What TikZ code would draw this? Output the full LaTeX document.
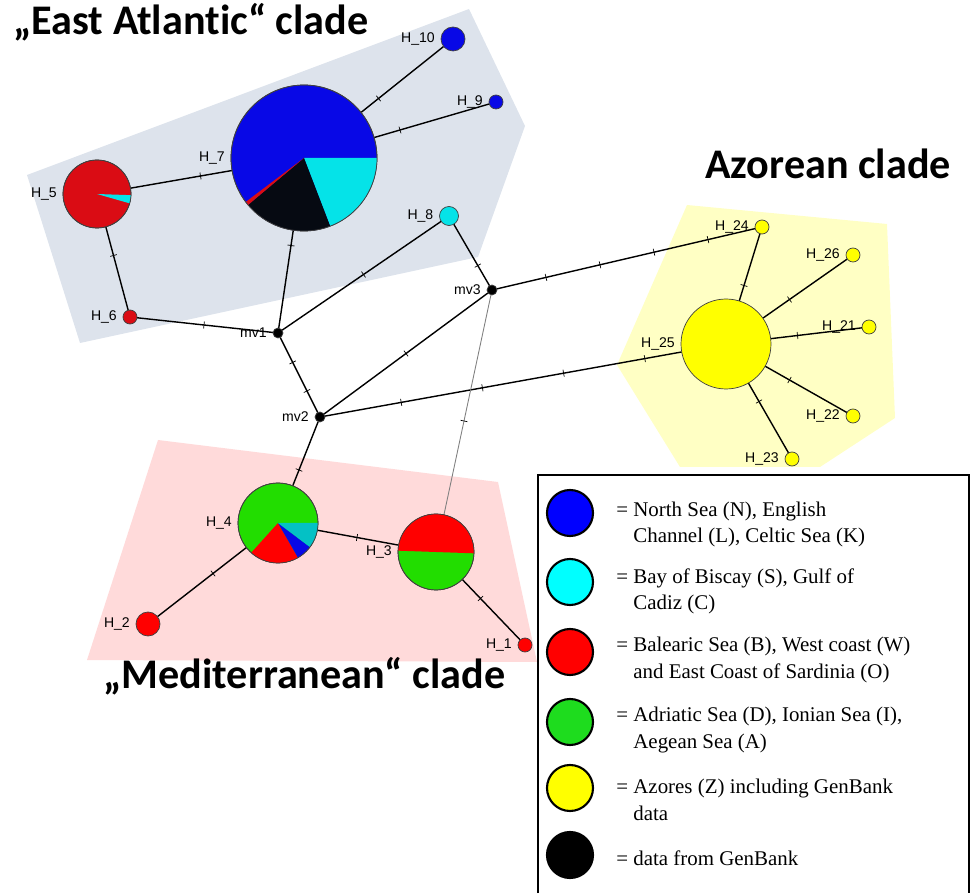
\documentclass[tikz,border=0pt]{standalone}
\usepackage{fontspec}
\setmainfont{Liberation Serif}
\newfontfamily\labelfont{Liberation Sans}
\newfontfamily\cladefont{Carlito}[Ligatures=NoCommon]
\usepackage{tikz}
\usepackage{tikz-network}
\usetikzlibrary{calc}

\definecolor{NSea}{RGB}{8,8,230}
\definecolor{Biscay}{RGB}{5,227,232}
\definecolor{BalearA}{RGB}{218,12,20}
\definecolor{BalearM}{RGB}{255,0,0}
\definecolor{Adria}{RGB}{34,221,0}
\definecolor{GenBank}{RGB}{6,10,18}
\definecolor{Azores}{RGB}{255,255,0}
\definecolor{hullEA}{RGB}{221,227,236}
\definecolor{hullAZ}{RGB}{255,255,196}
\definecolor{hullME}{RGB}{255,218,218}
\definecolor{keyN}{RGB}{0,0,255}
\definecolor{keyS}{RGB}{0,255,255}
\definecolor{keyB}{RGB}{255,0,0}
\definecolor{keyD}{RGB}{30,220,30}
\definecolor{keyZ}{RGB}{255,255,0}

\tikzset{
  tickline/.style={black, line width=0.4pt},
  pieline/.style={draw=black!75, line width=0.4pt},
  legdot/.style={circle, draw=black, line width=1.2pt, minimum size=0.92cm, inner sep=0pt},
  legtext/.style={anchor=base west, align=left, inner sep=0pt, font=\fontsize{11.9}{14.8}\selectfont},
  clade/.style={anchor=base west, inner sep=0pt, font=\cladefont\bfseries\fontsize{24}{28}\selectfont}
}

% mutation step on an edge
\newcommand{\MutTick}[3]{\draw[tickline] ($(#1)!#3!(#2)!2pt!90:(#2)$) -- ($(#1)!#3!(#2)!2pt!-90:(#2)$);}
% slice of a haplotype pie
\newcommand{\PieSlice}[5]{\fill[#5] (#1.center) -- ++(#2:#4) arc[start angle=#2, end angle=#3, radius=#4] -- cycle;}

\begin{document}
\begin{tikzpicture}
\useasboundingbox (0,0) rectangle (19.48,17.86);

\SetVertexStyle[LineWidth=0.4pt, LineColor=black!75, TextFont=\labelfont\fontsize{8}{9}\selectfont]
\SetEdgeStyle[Color=black, LineWidth=0.8pt]

% clade hulls
\begin{pgfonlayer}{background}
\fill[hullEA] (0.54,14.36) -- (9.38,17.68) -- (10.50,15.34) -- (9.56,12.72) -- (1.60,11.00) -- cycle;
\fill[hullAZ] (13.74,13.76) -- (17.74,13.38) -- (17.90,9.50) -- (16.40,8.52) -- (13.60,8.52) -- (12.34,10.56) -- cycle;
\fill[hullME] (3.16,9.06) -- (9.96,8.22) -- (10.74,4.62) -- (1.74,4.66) -- cycle;
\end{pgfonlayer}

\Vertex[x=9.06,y=17.08,size=.48,color=NSea,label=H\_10,position=left]{H10}
\Vertex[x=9.92,y=15.82,size=.28,color=NSea,label=H\_9,position=left]{H9}
\Vertex[x=6.08,y=14.70,size=2.92,color=NSea,label=H\_7,position=left]{H7}
\Vertex[x=1.94,y=13.98,size=1.36,color=BalearA,label=H\_5,position=left]{H5}
\Vertex[x=2.60,y=11.52,size=.28,color=BalearA,label=H\_6,position=left]{H6}
\Vertex[x=8.98,y=13.54,size=.38,color=Biscay,label=H\_8,position=left]{H8}

\Vertex[x=5.56,y=11.20,size=.2,color=black,label=mv1,position=left]{mv1}
\Vertex[x=6.40,y=9.52,size=.2,color=black,label=mv2,position=left]{mv2}
\Vertex[x=9.84,y=12.06,size=.2,color=black,label=mv3,position=left]{mv3}

\Vertex[x=14.52,y=10.98,size=1.80,color=Azores,label=H\_25,position=left]{H25}
\Vertex[x=15.24,y=13.32,size=.28,color=Azores,label=H\_24,position=left]{H24}
\Vertex[x=17.06,y=12.76,size=.28,color=Azores,label=H\_26,position=left]{H26}
\Vertex[x=17.38,y=11.32,size=.28,color=Azores,label=H\_21,position=left]{H21}
\Vertex[x=17.06,y=9.54,size=.28,color=Azores,label=H\_22,position=left]{H22}
\Vertex[x=15.84,y=8.68,size=.28,color=Azores,label=H\_23,position=left]{H23}

\Vertex[x=5.56,y=7.40,size=1.60,color=Adria,label=H\_4,position=left]{H4}
\Vertex[x=8.72,y=6.82,size=1.52,color=Adria,label=H\_3,position=left]{H3}
\Vertex[x=2.96,y=5.38,size=.48,color=BalearM,label=H\_2,position=left]{H2}
\Vertex[x=10.50,y=4.96,size=.28,color=BalearM,label=H\_1,position=left]{H1}

\Edge(H7)(H10)
\Edge(H7)(H9)
\Edge(H5)(H7)
\Edge(H5)(H6)
\Edge(H6)(mv1)
\Edge(H7)(mv1)
\Edge(mv1)(H8)
\Edge(H8)(mv3)
\Edge(mv1)(mv2)
\Edge(mv2)(mv3)
\Edge(mv2)(H25)
\Edge(mv3)(H24)
\Edge[color=gray,lw=0.5](mv3)(H3)
\Edge(mv2)(H4)
\Edge(H4)(H3)
\Edge(H4)(H2)
\Edge(H3)(H1)
\Edge(H25)(H24)
\Edge(H25)(H26)
\Edge(H25)(H21)
\Edge(H25)(H22)
\Edge(H25)(H23)

\MutTick{H7}{H10}{.5}
\MutTick{H7}{H9}{.5}
\MutTick{H5}{H7}{.5}
\MutTick{H5}{H6}{.5}
\MutTick{H6}{mv1}{.5}
\MutTick{H7}{mv1}{.5}
\MutTick{mv1}{H8}{.5}
\MutTick{H8}{mv3}{.67}
\MutTick{mv1}{mv2}{.35}
\MutTick{mv1}{mv2}{.69}
\MutTick{mv2}{mv3}{.5}
\foreach \p in {.2,.4,.6,.8}{
  \MutTick{mv2}{H25}{\p}
  \MutTick{mv3}{H24}{\p}
}
\MutTick{mv3}{H3}{.5}
\MutTick{mv2}{H4}{.5}
\MutTick{H4}{H3}{.5}
\MutTick{H4}{H2}{.5}
\MutTick{H3}{H1}{.5}
\foreach \h in {H24,H26,H21,H22,H23}{
  \MutTick{H25}{\h}{.5}
}

% pies
\PieSlice{H7}{0}{-69}{1.46cm}{Biscay}
\PieSlice{H7}{-69}{-140}{1.46cm}{GenBank}
\PieSlice{H7}{-140}{-143}{1.46cm}{BalearA}
\draw[pieline] (H7.center) circle[radius=1.46cm];
\PieSlice{H5}{-2}{-16}{0.68cm}{Biscay}
\draw[pieline] (H5.center) circle[radius=0.68cm];
\PieSlice{H4}{228}{300}{0.80cm}{BalearM}
\PieSlice{H4}{300}{323}{0.80cm}{NSea}
\PieSlice{H4}{323}{360}{0.80cm}{Biscay!85!black}
\draw[pieline] (H4.center) circle[radius=0.80cm];
\PieSlice{H3}{-2}{178}{0.76cm}{BalearM}
\draw[pieline] (H3.center) circle[radius=0.76cm];

\node[clade] (tEA) at (0.26,17.16) {„East Atlantic“ clade};
\node[clade] (tAZ) at (14.10,14.28) {Azorean clade};
\node[clade] (tME) at (2.06,4.10) {„Mediterranean“ clade};

% legend
\draw[line width=1.6pt] (10.76,0) |- (19.38,8.36) -- (19.38,0);
\node[legdot, fill=keyN] (kN) at (11.40,7.60) {};
\node[legdot, fill=keyS] (kS) at (11.40,6.22) {};
\node[legdot, fill=keyB] (kB) at (11.40,4.82) {};
\node[legdot, fill=keyD] (kD) at (11.40,3.42) {};
\node[legdot, fill=keyZ] (kZ) at (11.40,2.10) {};
\node[legdot, fill=black] (kG) at (11.40,0.76) {};
\node[legtext] (lN) at (12.32,7.01) {= North Sea (N), English\\\hphantom{= }Channel (L), Celtic Sea (K)};
\node[legtext] (lS) at (12.32,5.66) {= Bay of Biscay (S), Gulf of\\\hphantom{= }Cadiz (C)};
\node[legtext] (lB) at (12.32,4.30) {= Balearic Sea (B), West coast (W)\\\hphantom{= }and East Coast of Sardinia (O)};
\node[legtext] (lD) at (12.32,2.90) {= Adriatic Sea (D), Ionian Sea (I),\\\hphantom{= }Aegean Sea (A)};
\node[legtext] (lZ) at (12.32,1.46) {= Azores (Z) including GenBank\\\hphantom{= }data};
\node[legtext] (lG) at (12.32,0.56) {= data from GenBank};
\end{tikzpicture}
\end{document}
